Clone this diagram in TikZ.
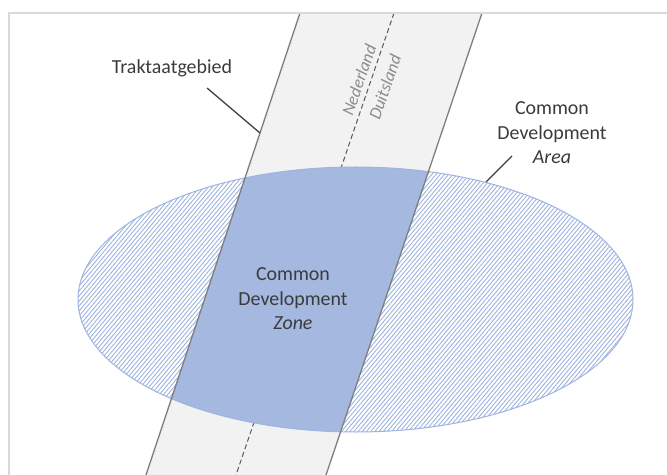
\documentclass[tikz,border=0pt]{standalone}
\usepackage{fontspec}
\setmainfont{Carlito}
\usetikzlibrary{patterns.meta}
\definecolor{bandfill}{HTML}{F2F2F2}
\definecolor{bandedge}{HTML}{7F7F7F}
\definecolor{zoneblue}{HTML}{A4B8E0}
\definecolor{hatchblue}{HTML}{9DB3DF}
\definecolor{ellipseedge}{HTML}{9FB4DE}
\definecolor{framegray}{HTML}{D9D9D9}
\definecolor{txt}{HTML}{3B3B3B}
\definecolor{bordertxt}{HTML}{8C8C8C}
\definecolor{leader}{HTML}{404040}
\definecolor{dashgray}{HTML}{595959}
\tikzset{
  label20/.style={font=\fontsize{20}{24.5}\selectfont, text=txt, align=center, inner sep=0pt},
  borderlabel/.style={font=\fontsize{17.5}{20}\selectfont\itshape, text=bordertxt, inner sep=0pt, rotate=71},
  leaderline/.style={draw=leader, line width=1.3bp},
  bandline/.style={draw=bandedge, line width=1.3bp},
  borderline/.style={draw=dashgray, line width=1bp, dash pattern=on 5bp off 3bp},
  frameline/.style={draw=framegray, line width=1.5bp}
}
\begin{document}
\begin{tikzpicture}[x=1bp,y=-1bp]
\useasboundingbox (0,0) rectangle (667,475);
\fill[white] (0,0) rectangle (667,475);
% band corners
\coordinate (bTL) at (300,13);
\coordinate (bTR) at (482,13);
\coordinate (bBR) at (326,475);
\coordinate (bBL) at (146,475);
\coordinate (dTop) at (394,13);
\coordinate (dBot) at (236,475);
\coordinate (ec) at (355.5,299.5);
% band fill
\fill[bandfill] (bTL) -- (bTR) -- (bBR) -- (bBL) -- cycle;
% border line between countries
\draw[borderline] (dTop) -- (dBot);
% ellipse (Common Development Area)
\fill[white] (ec) ellipse [x radius=277.5, y radius=132.5];
\fill[pattern={Lines[angle=50,distance=3.2bp,line width=0.9bp]}, pattern color=hatchblue]
  (ec) ellipse [x radius=277.5, y radius=132.5];
% zone
\begin{scope}
  \clip (bTL) -- (bTR) -- (bBR) -- (bBL) -- cycle;
  \fill[zoneblue] (ec) ellipse [x radius=277.5, y radius=132.5];
\end{scope}
\draw[ellipseedge, line width=1bp] (ec) ellipse [x radius=277.5, y radius=132.5];
% band edges
\draw[bandline] (bTL) -- (bBL);
\draw[bandline] (bTR) -- (bBR);
% frame
\coordinate (fTR) at (667,13);
\coordinate (fTL) at (9,13);
\coordinate (fBL) at (9,475);
\draw[frameline] (fTR) -- (fTL) -- (fBL);
% labels
\node[label20, anchor=base] (trakt) at (172,74) {Traktaatgebied};
\coordinate (tA) at (207,88);
\coordinate (tB) at (260,133);
\draw[leaderline] (tA) -- (tB);
\node[label20] (area) at (552,133) {Common\\Development\\\textit{Area}};
\coordinate (aA) at (512,156);
\coordinate (aB) at (486,182);
\draw[leaderline] (aA) -- (aB);
\node[label20] (zone) at (293,299) {Common\\Development\\\textit{Zone}};
\node[borderlabel] (nl) at (359,80) {Nederland};
\node[borderlabel] (de) at (385,87) {Duitsland};
\end{tikzpicture}
\end{document}
